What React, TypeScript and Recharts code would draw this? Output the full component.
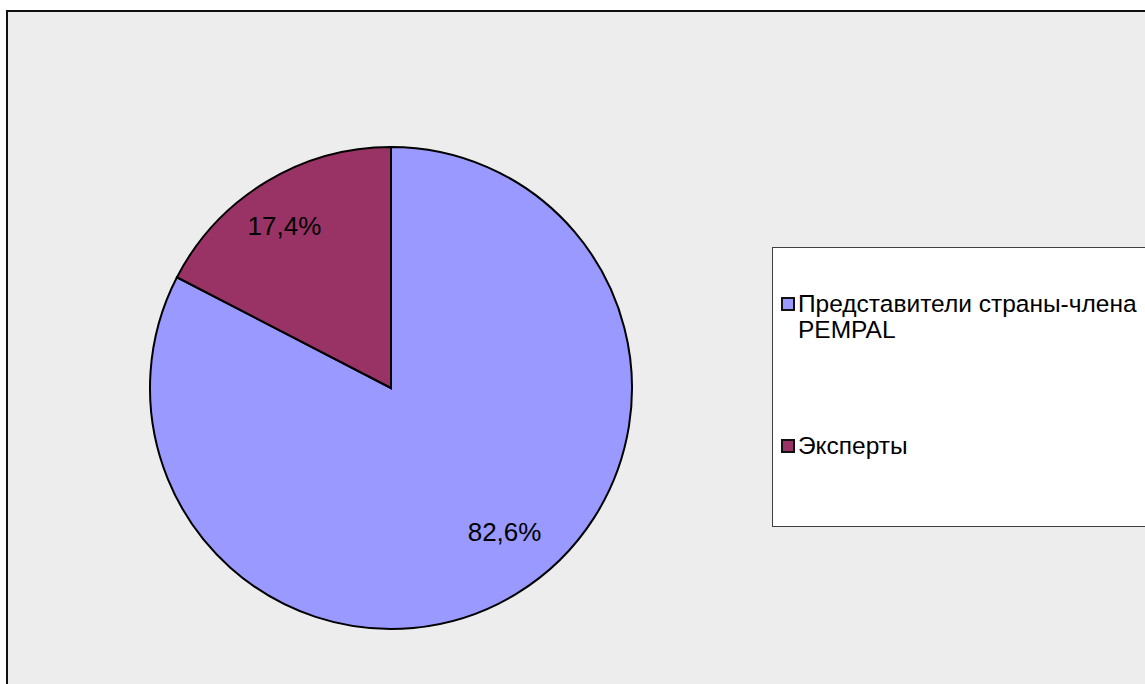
import { PieChart, Pie, Cell, Legend } from "recharts";

const names = ["Представители страны-члена PEMPAL", "Эксперты"];
const shares = [82.6, 17.4];
const labels = ["82,6%", "17,4%"];
const COLORS = ["#9999FF", "#993366"];

const data = names.map((name, i) => ({ name, value: shares[i], label: labels[i] }));

const RAD = Math.PI / 180;

function renderLabel(props: any) {
  const { cx, cy, midAngle, outerRadius, index } = props;
  // Excel's best-fit puts the labels slightly counter-clockwise of the slice middle
  const shift = index === 0 ? 7 : 2;
  const a = (midAngle + shift) * RAD;
  const r = outerRadius * (index === 0 ? 0.76 : 0.805);
  const x = cx + r * Math.cos(a);
  const y = cy - r * Math.sin(a);
  return (
    <text
      x={x}
      y={y}
      fill="#000"
      fontSize={26}
      fontFamily="Liberation Sans, Arial, sans-serif"
      textAnchor="middle"
      dominantBaseline="central"
    >
      {data[index].label}
    </text>
  );
}

function LegendBox({ payload }: any) {
  const items = payload || [];
  return (
    <div
      style={{
        width: "100%",
        height: "100%",
        boxSizing: "border-box",
        background: "#fff",
        border: "1px solid #404040",
        fontFamily: "Liberation Sans, Arial, sans-serif",
        fontSize: 24.5,
        color: "#000",
        position: "relative",
      }}
    >
      {items.map((entry: any, i: number) => (
        <div
          key={`leg-${i}`}
          style={{
            position: "absolute",
            left: 8,
            top: i === 0 ? 43 : 185,
            display: "flex",
            alignItems: "flex-start",
            lineHeight: "26px",
          }}
        >
          <span
            style={{
              display: "inline-block",
              width: 10,
              height: 10,
              marginTop: 6,
              marginRight: 3,
              background: entry.color,
              border: "2px solid #111",
              flexShrink: 0,
            }}
          />
          <span style={{ width: 360 }}>{entry.value}</span>
        </div>
      ))}
    </div>
  );
}

export default function App() {
  return (
    <div
      style={{
        position: "absolute",
        left: 6,
        top: 10,
        width: 1150,
        height: 680,
        border: "2px solid #111",
        background: "#EDEDED",
      }}
    >
      <PieChart width={1150} height={680}>
        <Pie
          data={data}
          dataKey="value"
          nameKey="name"
          cx={378}
          cy={371}
          outerRadius={241}
          startAngle={90}
          endAngle={-270}
          stroke="#000"
          strokeWidth={2}
          label={renderLabel}
          labelLine={false}
          isAnimationActive={false}
        >
          {data.map((entry, index) => (
            <Cell key={`cell-${index}`} fill={COLORS[index % COLORS.length]} />
          ))}
        </Pie>
        <Legend
          content={<LegendBox />}
          wrapperStyle={{ position: "absolute", left: 764, top: 235, width: 390, height: 280 }}
        />
      </PieChart>
    </div>
  );
}
